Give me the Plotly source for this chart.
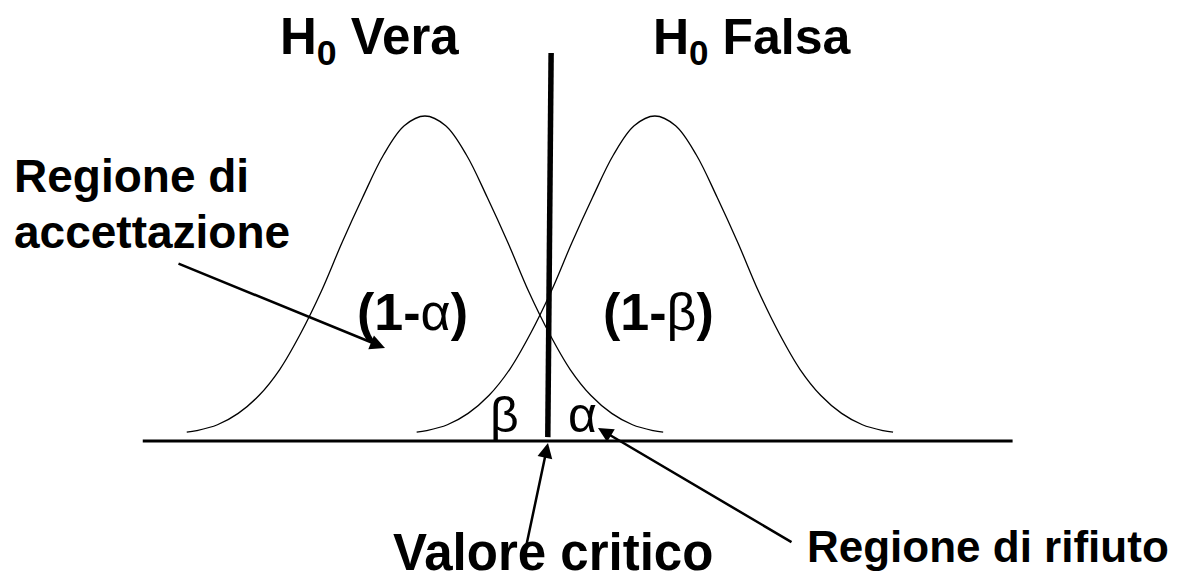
import plotly.graph_objects as go

# forma della curva normale: scarto dalla media (in sigma) e altezza relativa al picco
z_offsets = [-2.87, -2.75, -2.5, -2.25, -2.0, -1.75, -1.5, -1.25, -1.0, -0.75, -0.5, -0.25, 0.0,
             0.25, 0.5, 0.75, 1.0, 1.25, 1.5, 1.75, 2.0, 2.25, 2.5, 2.75, 2.87]
heights = [0.027, 0.032, 0.05, 0.085, 0.14, 0.22, 0.33, 0.46, 0.61, 0.75, 0.88, 0.97, 1.0,
           0.97, 0.88, 0.75, 0.61, 0.46, 0.33, 0.22, 0.14, 0.085, 0.05, 0.032, 0.027]

mu_h0 = 0.0    # H0 vera
mu_h1 = 2.77   # H0 falsa

# valore critico (linea spessa, leggermente inclinata) e asse orizzontale
crit_x = [1.48, 1.52]
crit_y = [0.012, 1.194]
base_x = [-3.40, 7.08]
base_y = [0.0, 0.0]

W, H = 1184, 584
FONT = "Liberation Sans, Arial, sans-serif"


def px(x, y):
    # pixel -> coordinate paper
    return x / W, 1 - y / H


fig = go.Figure()

for mu in [mu_h0, mu_h1]:
    fig.add_trace(go.Scatter(x=[mu + z for z in z_offsets], y=heights, mode="lines",
                             line=dict(color="black", width=1.3, shape="spline"),
                             hoverinfo="skip"))

fig.add_trace(go.Scatter(x=base_x, y=base_y, mode="lines",
                         line=dict(color="black", width=3), hoverinfo="skip"))
fig.add_trace(go.Scatter(x=crit_x, y=crit_y, mode="lines",
                         line=dict(color="black", width=5.5), hoverinfo="skip"))


def label(text, x, y, size, xanchor="center", yanchor="middle"):
    xp, yp = px(x, y)
    fig.add_annotation(x=xp, y=yp, xref="paper", yref="paper", text=text, showarrow=False,
                       xanchor=xanchor, yanchor=yanchor,
                       font=dict(family=FONT, size=size, color="black"))


def arrow(tail, tip):
    xp, yp = px(*tip)
    fig.add_annotation(x=xp, y=yp, xref="paper", yref="paper", text="",
                       showarrow=True, ax=tail[0] - tip[0], ay=tail[1] - tip[1],
                       arrowhead=2, arrowsize=1.2, arrowwidth=2.5, arrowcolor="black",
                       standoff=0, startstandoff=0)


label("<b>H<sub>0</sub> Vera</b>", 278, 40, 51, xanchor="left")
label("<b>H<sub>0</sub> Falsa</b>", 651, 40, 50, xanchor="left")
label("<b>Regione di</b>", 12, 176, 46, xanchor="left")
label("<b>accettazione</b>", 12, 232, 46, xanchor="left")

label("<b>(1-</b>α<b>)</b>", 412, 312, 52)
label("<b>(1-</b>β<b>)</b>", 658, 312, 52)
label("β", 504, 415, 50)
label("α", 582, 415, 50)

label("<b>Valore critico</b>", 553, 552, 51)
label("<b>Regione di rifiuto</b>", 988, 546, 44)

arrow((177, 263), (385, 348))
arrow((526, 547), (548, 443))
arrow((793, 543), (598, 428))

fig.update_layout(
    width=W, height=H,
    margin=dict(l=0, r=0, t=0, b=0),
    paper_bgcolor="white", plot_bgcolor="white",
    showlegend=False,
    xaxis=dict(range=[-5.12, 9.145], visible=False),
    yaxis=dict(range=[-0.44, 1.357], visible=False),
)

fig.write_html("out.html", config={"displayModeBar": False},
               post_script="document.body.style.margin='0';")
